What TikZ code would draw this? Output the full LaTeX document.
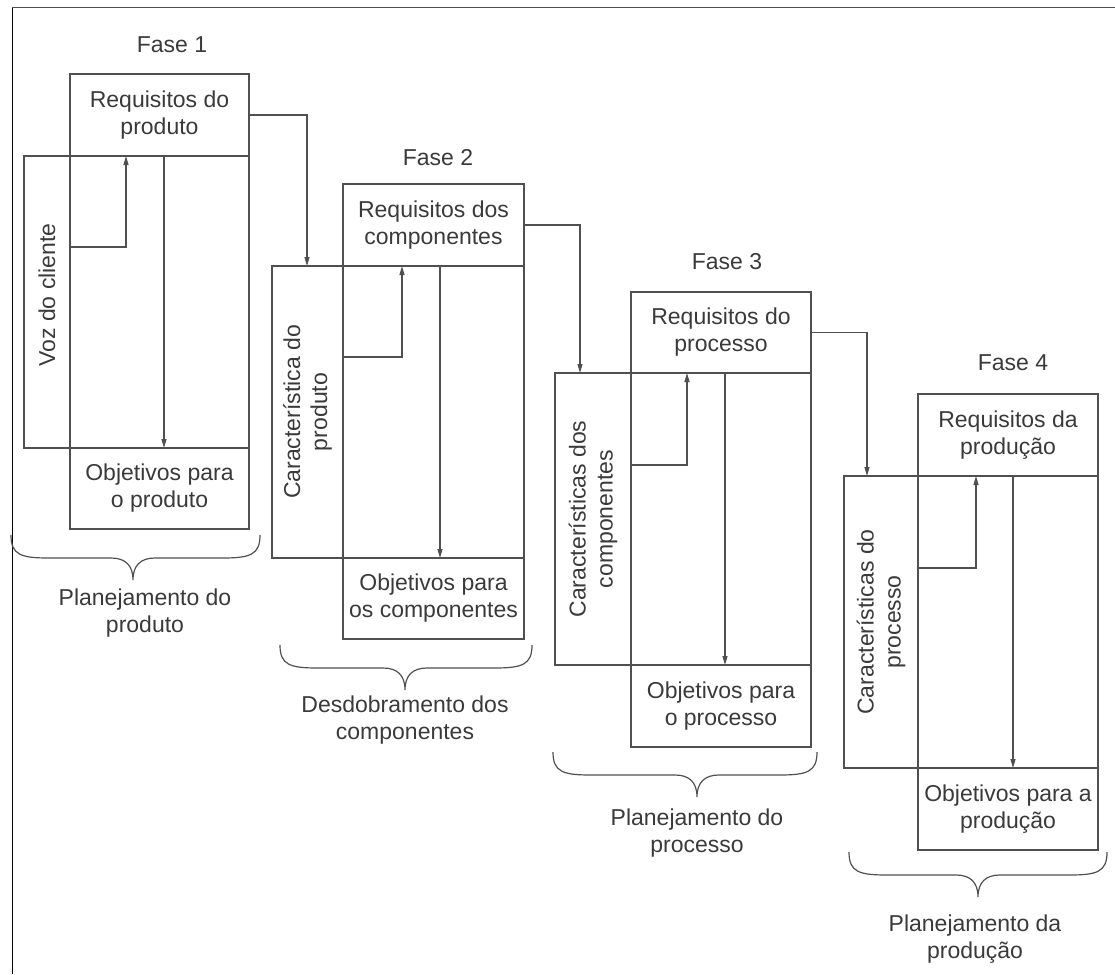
\documentclass[tikz,border=0pt]{standalone}
\usepackage{fontspec}
\setmainfont{Liberation Sans}
\usetikzlibrary{arrows.meta}
\definecolor{txtc}{HTML}{3A3A3A}
\definecolor{linec}{HTML}{505050}
\newcommand\qfdbrace[4]{%
  \draw[brc] (#1,#3) .. controls (#1,#3+20) and (#1+10,#3+23) .. (#1+38,#3+23)
    -- (#4-22,#3+23) .. controls (#4-8,#3+23) and (#4,#3+30) .. (#4,#3+45)
    .. controls (#4,#3+30) and (#4+8,#3+23) .. (#4+22,#3+23)
    -- (#2-38,#3+23) .. controls (#2-10,#3+23) and (#2,#3+20) .. (#2,#3);}
\begin{document}
\begin{tikzpicture}[x=1pt,y=-1pt,
  every node/.style={font=\fontsize{23}{27}\selectfont, text=txtc},
  box/.style={draw=linec, line width=1.3pt, inner sep=2pt, outer sep=0pt, align=center},
  lbl/.style={align=center, inner sep=1pt},
  arr/.style={draw=linec, line width=1.2pt, -{Triangle[length=9pt,width=5pt]}},
  brc/.style={draw=linec, line width=1.2pt},
  frm/.style={draw=black, line width=1pt}]
\useasboundingbox (0,0) rectangle (1115,974);
% frame
\draw[frm] (12,974) -- (12,8);
\draw[draw=linec, line width=1pt] (12,8) -- (1115,8);

% ---------- Phase 1 ----------
\node[lbl] (f1) at (172,45) {Fase 1};
\node[box, minimum width=179, minimum height=292] (mat1) at (159.5,302) {};
\node[box, minimum width=46, minimum height=292] (car1) at (47,302) {};
\node[lbl, rotate=90] (car1t) at (47,295) {Voz do cliente};
\node[box, minimum width=179, minimum height=82] (req1) at (159.5,115) {Requisitos do\\produto};
\node[box, minimum width=179, minimum height=81] (obj1) at (159.5,488.5) {Objetivos para\\o produto};
\coordinate (a1) at (126,247);
\coordinate (d1) at (164,0);
\draw[arr] (mat1.west |- a1) -| (req1.south -| a1);
\draw[arr] (req1.south -| d1) -- (obj1.north -| d1);
\qfdbrace{11}{260}{535}{133}
\node[lbl] (p1) at (145,613) {Planejamento do\\produto};

% ---------- Phase 2 ----------
\node[lbl] (f2) at (438,158) {Fase 2};
\node[box, minimum width=181, minimum height=292] (mat2) at (433.5,412) {};
\node[box, minimum width=71, minimum height=292] (car2) at (307.5,412) {};
\node[lbl, rotate=90] (car2t) at (307.5,412) {Característica do\\produto};
\node[box, minimum width=181, minimum height=82] (req2) at (433.5,225) {Requisitos dos\\componentes};
\node[box, minimum width=181, minimum height=81] (obj2) at (433.5,598.5) {Objetivos para\\os componentes};
\coordinate (a2) at (402,357);
\coordinate (d2) at (440,0);
\draw[arr] (mat2.west |- a2) -| (req2.south -| a2);
\draw[arr] (req2.south -| d2) -- (obj2.north -| d2);
\qfdbrace{280}{532}{645}{405}
\node[lbl] (p2) at (405,720) {Desdobramento dos\\componentes};

% ---------- Phase 3 ----------
\node[lbl] (f3) at (727,262) {Fase 3};
\node[box, minimum width=180, minimum height=292] (mat3) at (721,519) {};
\node[box, minimum width=76, minimum height=292] (car3) at (593,519) {};
\node[lbl, rotate=90] (car3t) at (593,519) {Características dos\\componentes};
\node[box, minimum width=180, minimum height=81] (req3) at (721,332.5) {Requisitos do\\processo};
\node[box, minimum width=180, minimum height=82] (obj3) at (721,706) {Objetivos para\\o processo};
\coordinate (a3) at (687,465);
\coordinate (d3) at (725,0);
\draw[arr] (mat3.west |- a3) -| (req3.south -| a3);
\draw[arr] (req3.south -| d3) -- (obj3.north -| d3);
\qfdbrace{553}{817}{752}{697}
\node[lbl] (p3) at (697,833) {Planejamento do\\processo};

% ---------- Phase 4 ----------
\node[lbl] (f4) at (1013,363) {Fase 4};
\node[box, minimum width=180, minimum height=292] (mat4) at (1008,622) {};
\node[box, minimum width=74, minimum height=292] (car4) at (881,622) {};
\node[lbl, rotate=90] (car4t) at (881,622) {Características do\\processo};
\node[box, minimum width=180, minimum height=82] (req4) at (1008,435) {Requisitos da\\produção};
\node[box, minimum width=180, minimum height=82] (obj4) at (1008,809) {Objetivos para a\\produção};
\coordinate (a4) at (976,568);
\coordinate (d4) at (1013,0);
\draw[arr] (mat4.west |- a4) -| (req4.south -| a4);
\draw[arr] (req4.south -| d4) -- (obj4.north -| d4);
\qfdbrace{849}{1107}{852}{978}
\node[lbl] (p4) at (975,939) {Planejamento da\\produção};

% ---------- connectors between phases ----------
\coordinate (c2) at (307,0);
\coordinate (c3) at (580,0);
\coordinate (c4) at (867,0);
\draw[arr] (req1.east) -| (car2.north -| c2);
\draw[arr] (req2.east) -| (car3.north -| c3);
\draw[arr] (req3.east) -| (car4.north -| c4);
\end{tikzpicture}
\end{document}
